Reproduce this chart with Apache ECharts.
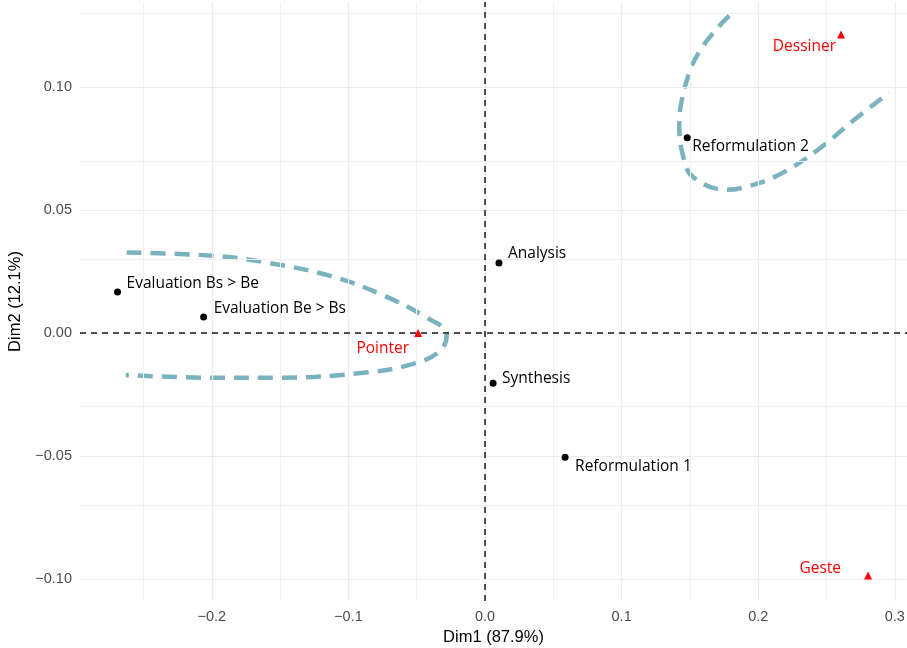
<!DOCTYPE html>
<html>
<head>
<meta charset="utf-8">
<script src="https://cdn.jsdelivr.net/npm/echarts@6/dist/echarts.min.js"></script>
<style>html,body{margin:0;padding:0;background:#fff}#c{width:907px;height:648px}</style>
</head>
<body>
<div id="c"></div>
<script>
// ---- data ----
const pointNames = ['Evaluation Bs > Be', 'Evaluation Be > Bs', 'Analysis', 'Synthesis', 'Reformulation 1', 'Reformulation 2'];
const pointDim1 = [-0.269, -0.206, 0.0102, 0.0059, 0.0586, 0.148];
const pointDim2 = [0.0167, 0.0065, 0.0285, -0.0204, -0.0505, 0.0794];

const triNames = ['Pointer', 'Dessiner', 'Geste'];
const triDim1 = [-0.049, 0.2606, 0.2804];
const triDim2 = [0.0, 0.1214, -0.0986];

const ellipseLeftX = [-0.2623, -0.1991, -0.1596, -0.1135, -0.0769, -0.0427, -0.0280, -0.0329, -0.0527, -0.0893, -0.1501, -0.1991, -0.2630];
const ellipseLeftY = [0.0327, 0.0314, 0.0286, 0.0232, 0.0159, 0.0062, -0.0005, -0.0073, -0.0126, -0.0162, -0.0182, -0.0182, -0.0171];
const ellipseRightX = [0.1788, 0.1696, 0.1574, 0.1501, 0.1440, 0.1422, 0.1452, 0.1525, 0.1769, 0.1940, 0.2160, 0.2428, 0.2696, 0.2960];
const ellipseRightY = [0.1291, 0.1237, 0.1149, 0.1067, 0.0945, 0.0850, 0.0714, 0.0633, 0.0582, 0.0599, 0.0646, 0.0741, 0.0864, 0.0978];

const xTicks = [-0.2, -0.1, 0.0, 0.1, 0.2, 0.3];
const xMinor = [-0.25, -0.15, -0.05, 0.05, 0.15, 0.25];
const yTicks = [-0.10, -0.05, 0.00, 0.05, 0.10];
const yMinor = [-0.075, -0.025, 0.025, 0.075, 0.125];
const xTitle = 'Dim1 (87.9%)';
const yTitle = 'Dim2 (12.1%)';

// ---- styles (label placement, px) ----
const labelStyle = {
  'Evaluation Bs > Be': [9, -8, 'left'],
  'Evaluation Be > Bs': [10, -8, 'left'],
  'Analysis': [9, -9, 'left'],
  'Synthesis': [9, -5, 'left'],
  'Reformulation 1': [10, 9, 'left'],
  'Reformulation 2': [5, 9, 'left'],
  'Pointer': [-9, 16, 'right'],
  'Dessiner': [-5, 12, 'right'],
  'Geste': [-27, -7, 'right']
};

const fmtMinus = (v, d) => {
  const s = Math.abs(v).toFixed(d);
  return (v < -1e-9 ? '\u2212' : '') + s;
};

function mkPoints(names, xs, ys, color) {
  return names.map((n, i) => {
    const st = labelStyle[n];
    return {
      name: n,
      value: [xs[i], ys[i]],
      label: {
        show: true, position: 'inside', align: st[2], verticalAlign: 'middle',
        offset: [st[0], st[1]], formatter: n, color: color,
        fontFamily: 'Open Sans', fontSize: 15.5
      }
    };
  });
}

const gridLines = []
  .concat(xTicks.map(v => ({ xAxis: v, lineStyle: { color: '#EBEBEB', width: 1.2, type: 'solid' } })))
  .concat(xMinor.map(v => ({ xAxis: v, lineStyle: { color: '#F0F0F0', width: 1, type: 'solid' } })))
  .concat(yTicks.map(v => ({ yAxis: v, lineStyle: { color: '#EBEBEB', width: 1.2, type: 'solid' } })))
  .concat(yMinor.map(v => ({ yAxis: v, lineStyle: { color: '#F0F0F0', width: 1, type: 'solid' } })));

const chart = echarts.init(document.getElementById('c'), null, { renderer: 'canvas' });
chart.setOption({
  animation: false,
  backgroundColor: '#ffffff',
  grid: { left: 80, right: 0, top: 2, bottom: 47, containLabel: false, outerBoundsMode: 'none' },
  xAxis: {
    type: 'value', min: -0.2965, max: 0.3089,
    name: xTitle, nameLocation: 'middle', nameGap: 24,
    nameTextStyle: { fontFamily: 'Liberation Sans', fontSize: 16.5, color: '#000' },
    axisLine: { show: false },
    axisTick: { show: true, customValues: xTicks, length: 4, lineStyle: { color: '#333', width: 1 } },
    axisLabel: { customValues: xTicks, formatter: v => fmtMinus(v, 1), color: '#4D4D4D', fontFamily: 'Liberation Sans', fontSize: 14.5, margin: 8 },
    splitLine: { show: false }
  },
  yAxis: {
    type: 'value', min: -0.1090, max: 0.1346,
    name: yTitle, nameLocation: 'middle', nameGap: 54,
    nameTextStyle: { fontFamily: 'Liberation Sans', fontSize: 16.5, color: '#000' },
    axisLine: { show: false },
    axisTick: { show: true, customValues: yTicks, length: 4, lineStyle: { color: '#333', width: 1 } },
    axisLabel: { customValues: yTicks, formatter: v => fmtMinus(v, 2), color: '#4D4D4D', fontFamily: 'Liberation Sans', fontSize: 14.5, margin: 8 },
    splitLine: { show: false }
  },
  series: [
    {
      type: 'line', data: [], silent: true, z: 0,
      markLine: { silent: true, symbol: ['none', 'none'], label: { show: false }, animation: false, data: gridLines }
    },
    {
      type: 'line', data: [], silent: true, z: 1,
      markLine: {
        silent: true, symbol: ['none', 'none'], label: { show: false }, animation: false,
        lineStyle: { color: '#1a1a1a', width: 1.5, type: [6, 5] },
        data: [{ xAxis: 0 }, { yAxis: 0 }]
      }
    },
    {
      type: 'line', z: 3, smooth: 0.4, showSymbol: false, silent: true,
      lineStyle: { color: '#7BB2BF', width: 4.5, type: [15, 9] },
      data: ellipseLeftX.map((x, i) => [x, ellipseLeftY[i]])
    },
    {
      type: 'line', z: 3, smooth: 0.4, showSymbol: false, silent: true,
      lineStyle: { color: '#7BB2BF', width: 4.5, type: [15, 9] },
      data: ellipseRightX.map((x, i) => [x, ellipseRightY[i]])
    },
    {
      type: 'scatter', z: 5, symbol: 'circle', symbolSize: 7,
      itemStyle: { color: '#000', opacity: 1 },
      data: mkPoints(pointNames, pointDim1, pointDim2, '#000')
    },
    {
      type: 'scatter', z: 5, symbol: 'triangle', symbolSize: 8,
      itemStyle: { color: '#FF0000', opacity: 1 },
      data: mkPoints(triNames, triDim1, triDim2, '#FF0000')
    }
  ]
});
</script>
</body>
</html>
